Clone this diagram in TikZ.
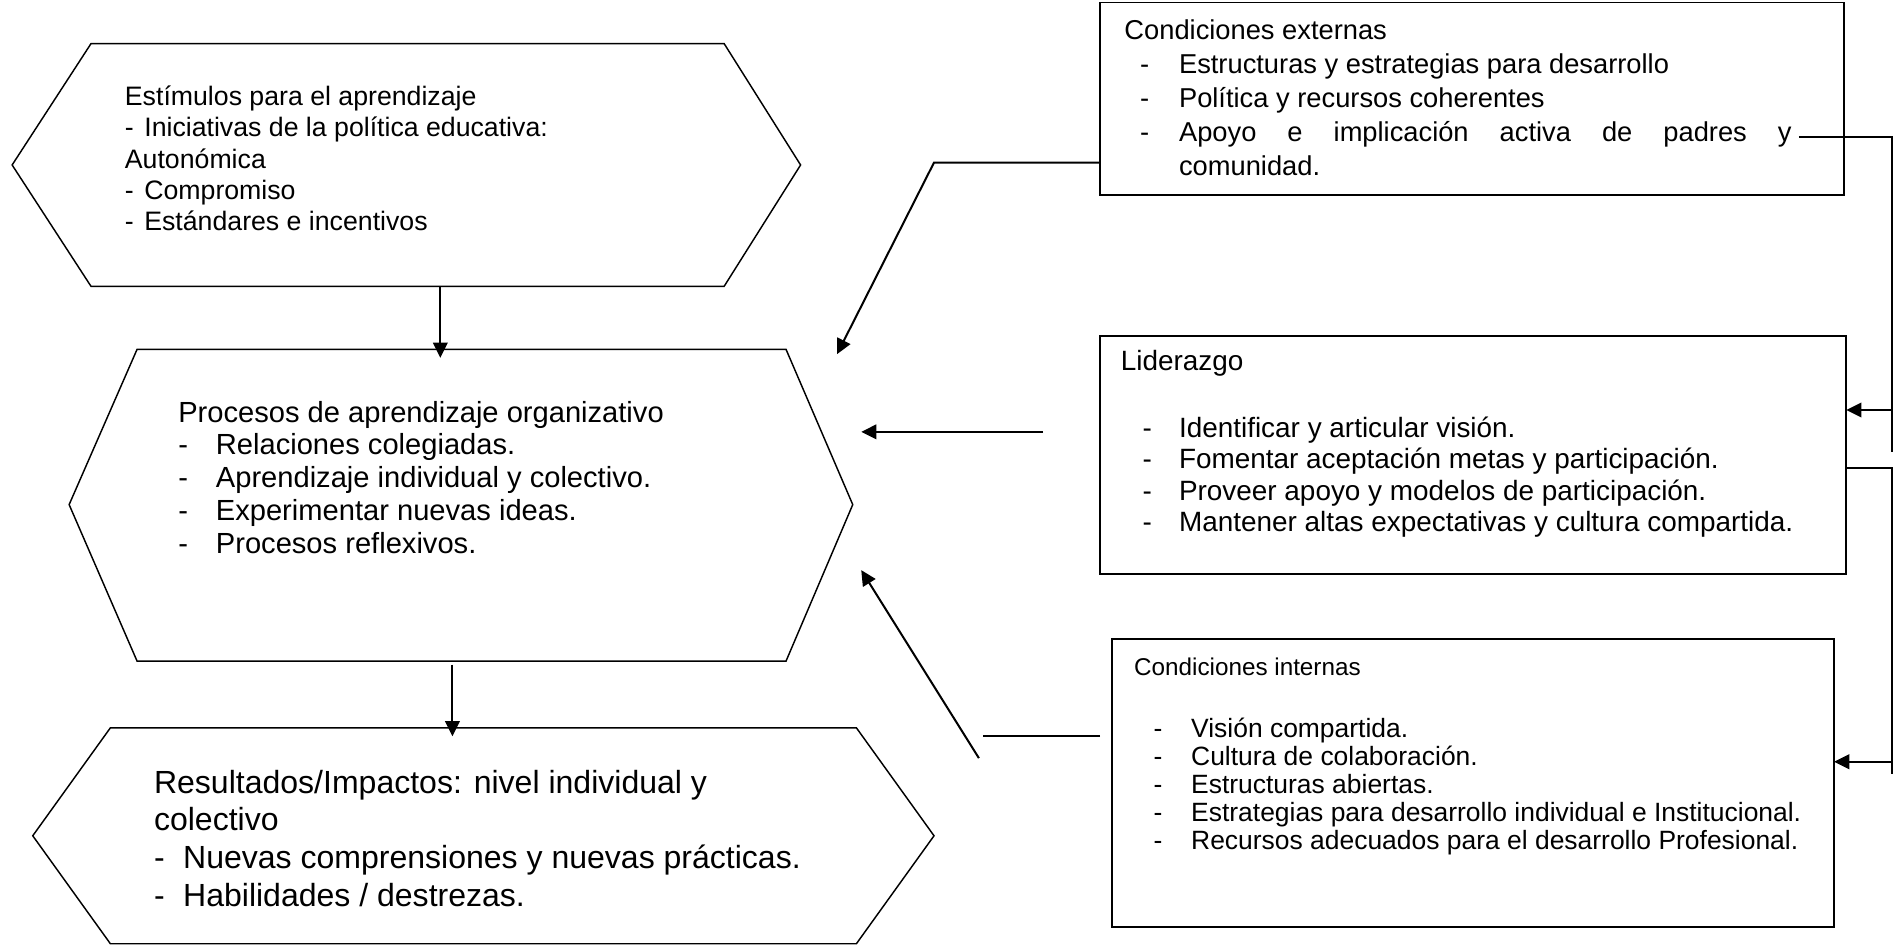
\documentclass[tikz,border=0pt]{standalone}
\usepackage{fontspec}
\setmainfont{Liberation Sans}
\usetikzlibrary{arrows.meta}
\newcommand{\stk}[1]{\begin{tabular}[t]{@{}l@{}}#1\end{tabular}}
\newcommand{\dsh}[1]{\makebox[#1][l]{-}}
\tikzset{
  hexa/.style={draw=black, line width=1.2pt, line join=miter},
  boxa/.style={draw=black, line width=1.4pt},
  conn/.style={draw=black, line width=1.65pt},
  arr/.style={conn, -{Triangle[length=12.5pt,width=12pt]}},
  txt/.style={anchor=base west, inner sep=0pt, outer sep=0pt},
}
\begin{document}
\begin{tikzpicture}[x=1pt,y=-1pt]
\useasboundingbox (0,0) rectangle (1568,780);
% ---------- hexagons
\draw[hexa] (75,36) -- (597,36) -- (660,136) -- (597,236) -- (75,236) -- (10,136) -- cycle;
\draw[hexa] (113,288) -- (648,288) -- (703,416) -- (648,545) -- (113,545) -- (57,416) -- cycle;
\draw[hexa] (91,600) -- (706,600) -- (770,689) -- (706,778) -- (91,778) -- (27,689) -- cycle;
\coordinate (h1s) at (363,236);
\coordinate (h2n) at (363,295);
\coordinate (h2s) at (373,548);
\coordinate (h3n) at (373,607);
% ---------- hexagon texts
\node[txt, font={\fontsize{22}{25.75}\selectfont}] (t1) at (103,87) {\stk{%
Estímulos para el aprendizaje\\
\dsh{16pt}Iniciativas de la política educativa:\\
Autonómica\\
\dsh{16pt}Compromiso\\
\dsh{16pt}Estándares e incentivos}};
\node[txt, font={\fontsize{24}{27}\selectfont}] (t2) at (147,348) {\stk{%
Procesos de aprendizaje organizativo\\
\dsh{31pt}Relaciones colegiadas.\\
\dsh{31pt}Aprendizaje individual y colectivo.\\
\dsh{31pt}Experimentar nuevas ideas.\\
\dsh{31pt}Procesos reflexivos.}};
\node[txt, font={\fontsize{26.4}{31}\selectfont}] (t3) at (127,654) {\stk{%
Resultados/Impactos: nivel individual y\\
colectivo\\
\dsh{24pt}Nuevas comprensiones y nuevas prácticas.\\
\dsh{24pt}Habilidades / destrezas.}};
% ---------- right boxes
\draw[boxa] (907,2) rectangle (1520,161);
\draw[boxa] (907,277) rectangle (1522,473);
\draw[boxa] (917,527) rectangle (1512,764);
\node[txt, font={\fontsize{22.5}{28}\selectfont}] (ce) at (927,32.5) {\stk{%
Condiciones externas\\
\hspace{13pt}\dsh{32pt}Estructuras y estrategias para desarrollo\\
\hspace{13pt}\dsh{32pt}Política y recursos coherentes\\
\hspace{13pt}\dsh{32pt}\makebox[505pt][s]{Apoyo e implicación activa de padres y}\\
\hspace{45pt}comunidad.}};
\node[txt, font={\fontsize{23}{26}\selectfont}] (lt) at (924,305.5) {Liderazgo};
\node[txt, font={\fontsize{23}{26}\selectfont}] (ll) at (942,360.5) {\stk{%
\dsh{30pt}Identificar y articular visión.\\
\dsh{30pt}Fomentar aceptación metas y participación.\\
\dsh{30pt}Proveer apoyo y modelos de participación.\\
\dsh{30pt}Mantener altas expectativas y cultura compartida.}};
\node[txt, font={\fontsize{20}{23}\selectfont}] (it) at (935,557) {Condiciones internas};
\node[txt, font={\fontsize{21.8}{23}\selectfont}] (il) at (951,608) {\stk{%
\dsh{31pt}Visión compartida.\\
\dsh{31pt}Cultura de colaboración.\\
\dsh{31pt}Estructuras abiertas.\\
\dsh{31pt}Estrategias para desarrollo individual e Institucional.\\
\dsh{31pt}Recursos adecuados para el desarrollo Profesional.}};
% ---------- anchor coordinates for connectors
\coordinate (cew) at (907,134);
\coordinate (cebend) at (770,134);
\coordinate (h2ne) at (690,292);
\coordinate (lids) at (860,356);
\coordinate (h2e) at (710,356);
\coordinate (ciw) at (907,607);
\coordinate (ciend) at (810,607);
\coordinate (diag0) at (807,625);
\coordinate (h2se) at (710,470);
\coordinate (cey) at (1483,113);
\coordinate (r1top) at (1560,113);
\coordinate (r1bot) at (1560,373);
\coordinate (r1arr) at (1560,338);
\coordinate (lide) at (1522,338);
\coordinate (lidr) at (1522,386);
\coordinate (r2top) at (1560,386);
\coordinate (r2bot) at (1560,638);
\coordinate (r2arr) at (1560,628);
\coordinate (cie) at (1512,628);
% ---------- connectors
\draw[arr] (h1s) -- (h2n);
\draw[arr] (h2s) -- (h3n);
\draw[arr] (cew) -- (cebend) -- (h2ne);
\draw[arr] (lids) -- (h2e);
\draw[conn] (ciw) -- (ciend);
\draw[arr] (diag0) -- (h2se);
\draw[conn] (cey) -- (r1top) -- (r1bot);
\draw[arr] (r1arr) -- (lide);
\draw[conn] (lidr) -- (r2top) -- (r2bot);
\draw[arr] (r2arr) -- (cie);
\end{tikzpicture}
\end{document}
